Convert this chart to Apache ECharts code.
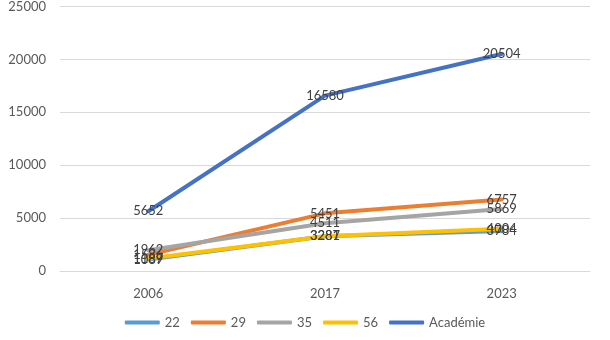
<!DOCTYPE html>
<html>
<head>
<meta charset="utf-8">
<script src="https://cdn.jsdelivr.net/npm/echarts@6/dist/echarts.min.js"></script>
<style>
  html, body { margin: 0; padding: 0; background: #fff; }
  #chart { width: 610px; height: 340px; }
</style>
</head>
<body>
<div id="chart"></div>
<script>
// Years on the horizontal axis
const years = ['2006', '2017', '2023'];

// Values per department and for the whole académie
const dep22 = [1089, 3281, 3784];
const dep29 = [1536, 5451, 6757];
const dep35 = [1962, 4511, 5869];
const dep56 = [1187, 3287, 4004];
const academie = [5652, 16580, 20504];

const seriesNames = ['22', '29', '35', '56', 'Académie'];
const seriesValues = [dep22, dep29, dep35, dep56, academie];
const seriesColors = ['#5B9BD5', '#ED7D31', '#A5A5A5', '#FFC000', '#4472C4'];

const FONT = 'Lato, "Liberation Sans", sans-serif';

const chart = echarts.init(document.getElementById('chart'), null, { renderer: 'canvas' });

// Visible lines, drawn underneath
const lineSeries = seriesNames.map((name, i) => ({
  name: name,
  type: 'line',
  data: seriesValues[i],
  symbol: 'none',
  lineStyle: { width: 4, color: seriesColors[i], cap: 'round', join: 'round' },
  itemStyle: { color: seriesColors[i] },
  emphasis: { disabled: true },
  z: 2
}));

// Value labels, drawn on their own layer above every line
const labelSeries = seriesNames.map((name, i) => ({
  name: name,
  type: 'line',
  data: seriesValues[i],
  symbol: 'circle',
  symbolSize: 1,
  showSymbol: true,
  showAllSymbol: true,
  lineStyle: { width: 0, opacity: 0 },
  itemStyle: { color: seriesColors[i] },
  label: {
    show: true,
    position: 'inside',
    color: '#404040',
    fontSize: 13,
    fontFamily: FONT,
    formatter: p => String(p.value)
  },
  labelLayout: { hideOverlap: false },
  emphasis: { disabled: true },
  zlevel: 1,
  z: 10
}));

chart.setOption({
  animation: false,
  backgroundColor: '#ffffff',
  color: seriesColors,
  grid: { left: 60, right: 20, top: 4, bottom: 69, containLabel: false },
  legend: {
    bottom: 6,
    left: 'center',
    itemWidth: 35,
    itemHeight: 4,
    itemGap: 11,
    icon: 'roundRect',
    textStyle: { color: '#595959', fontSize: 13, fontFamily: FONT },
    data: seriesNames
  },
  xAxis: {
    type: 'category',
    data: years,
    boundaryGap: true,
    axisLine: { lineStyle: { color: '#d9d9d9', width: 1 } },
    axisTick: { show: false },
    axisLabel: { color: '#595959', fontSize: 13, fontFamily: FONT, margin: 16 }
  },
  yAxis: {
    type: 'value',
    min: 0,
    max: 25000,
    interval: 5000,
    axisLine: { show: false },
    axisTick: { show: false },
    splitLine: { lineStyle: { color: '#d9d9d9', width: 1 } },
    axisLabel: {
      color: '#595959', fontSize: 13, fontFamily: FONT, margin: 14,
      formatter: v => String(v)
    }
  },
  series: lineSeries.concat(labelSeries)
});
</script>
</body>
</html>
